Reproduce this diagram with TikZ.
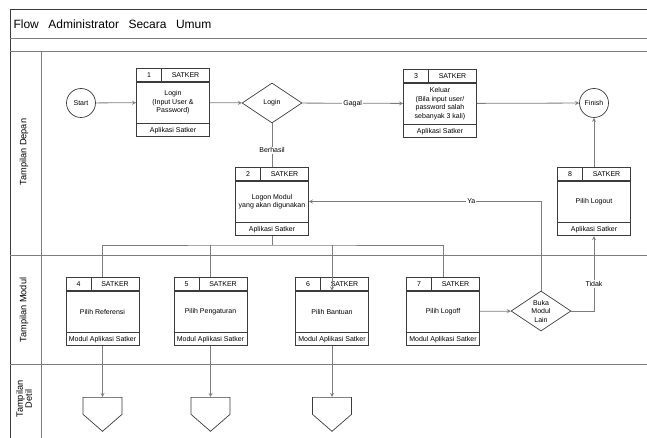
\documentclass[tikz,border=0pt]{standalone}
\usepackage{fontspec}
\setmainfont{Liberation Sans}
\usetikzlibrary{shapes.geometric,shapes.symbols}
\definecolor{edge}{RGB}{60,60,60}
\definecolor{conn}{RGB}{125,125,125}

% box with number / SATKER header, body and footer
\newcommand{\satker}[6]{%
  \node[boxbody] (#1) at (#2,#3+33.5) {#5};
  \node[boxcell,anchor=south west,minimum width=25] (#1-num) at (#1.north west) {#4};
  \node[boxcell,anchor=south east,minimum width=48] (#1-head) at (#1.north east) {SATKER};
  \node[boxcell,anchor=north,minimum width=73] (#1-foot) at (#1.south) {#6};
  \coordinate (#1-top) at (#1.north |- #1-head.north);
  \coordinate (#1-bot) at (#1-foot.south);
}

\begin{document}
\begin{tikzpicture}[x=1pt,y=-1pt,>=stealth,
  small/.style={font=\fontsize{7}{8.5}\selectfont},
  boxcell/.style={draw=edge,line width=0.7pt,minimum height=13,inner sep=0,small},
  boxbody/.style={draw=edge,line width=0.7pt,minimum width=73,minimum height=41,inner sep=1,align=center,small},
  term/.style={draw=edge,line width=0.7pt,circle,minimum size=29,inner sep=0,small},
  decide/.style={draw=edge,line width=0.7pt,diamond,minimum width=60,minimum height=40,aspect=1.5,inner sep=0,align=center,small},
  offpage/.style={draw=edge,line width=0.7pt,signal,signal to=south,signal pointer angle=98,minimum width=39,minimum height=17,inner sep=0,anchor=north},
  line/.style={draw=conn,line width=0.8pt},
  lbl/.style={fill=white,inner sep=1,small},
  lane/.style={font=\fontsize{9.2}{9}\selectfont,align=center}]
\useasboundingbox (0,0) rectangle (647,438);

% frame and swimlanes
\draw[edge,line width=0.8pt] (10,438) -- (10,9) -- (647,9);
\draw[conn,line width=0.9pt] (10,38) -- (647,38);
\draw[conn,line width=0.9pt] (10,51) -- (647,51);
\draw[conn,line width=0.9pt] (10,255) -- (647,255);
\draw[conn,line width=0.9pt] (10,364) -- (647,364);
\draw[conn,line width=0.9pt] (41,51) -- (41,438);
\node[anchor=west,font=\fontsize{12}{13}\selectfont] (title) at (10,24) {Flow\hspace{9.5pt}Administrator\hspace{9.5pt}Secara\hspace{9.5pt}Umum};
\node[lane,rotate=90] (depan) at (24,152) {Tampilan Depan};
\node[lane,rotate=90] (modul) at (24,310) {Tampilan Modul};
\node[lane,rotate=90] (detil) at (24,399) {Tampilan\\Detil};

% Tampilan Depan
\node[term] (start) at (81,103) {Start};
\satker{login}{173}{69}{1}{Login\\(Input User \&\\Password)}{Aplikasi Satker}
\node[decide] (cek) at (272,103) {Login};
\satker{keluar}{440}{70}{3}{Keluar\\(Bila input user/\\password salah\\sebanyak 3 kali)}{Aplikasi Satker}
\node[term] (finish) at (594,103) {Finish};
\satker{logon}{272}{168}{2}{Logon Modul\\yang akan digunakan}{Aplikasi Satker}
\satker{logout}{594}{168}{8}{Pilih Logout}{Aplikasi Satker}

% Tampilan Modul
\satker{ref}{102.5}{278}{4}{Pilih Referensi}{Modul Aplikasi Satker}
\satker{atur}{210.5}{278}{5}{Pilih Pengaturan}{Modul Aplikasi Satker}
\satker{bantu}{332}{278}{6}{Pilih Bantuan}{Modul Aplikasi Satker}
\satker{logoff}{443}{278}{7}{Pilih Logoff}{Modul Aplikasi Satker}
\node[decide] (buka) at (541,311) {Buka\\Modul\\Lain};

% Tampilan Detil
\node[offpage] (dref) at (102.5,397) {};
\node[offpage] (datur) at (210.5,397) {};
\node[offpage] (dbantu) at (332,397) {};

% connectors
\draw[line,->] (start) -- (login);
\draw[line,->] (login) -- (cek);
\draw[line,->] (cek) -- node[lbl] {Gagal} (keluar);
\draw[line,->] (keluar) -- (finish);
\draw[line] (cek.south) -- node[lbl,pos=0.62] {Berhasil} (logon-top);
\draw[line,->] (logout-top) -- (finish);
\coordinate (bus) at (272,245);
\draw[line] (logon-bot) -- (bus);
\draw[line] (ref-top) |- (bus) -| (logoff-top);
\draw[line] (bus -| atur-top) -- (atur-top);
\draw[line,->] (bus -| bantu-top) -- (bantu.north);
\draw[line,->] (logoff) -- (buka);
\draw[line,->] (buka.north) |- node[lbl,pos=0.65] {Ya} (logon);
\draw[line,->] (buka.east) -| node[lbl,pos=0.68] {Tidak} (logout-bot);
\draw[line,->] (ref-bot) -- (dref.north);
\draw[line,->] (atur-bot) -- (datur.north);
\draw[line,->] (bantu-bot) -- (dbantu.north);
\end{tikzpicture}
\end{document}
